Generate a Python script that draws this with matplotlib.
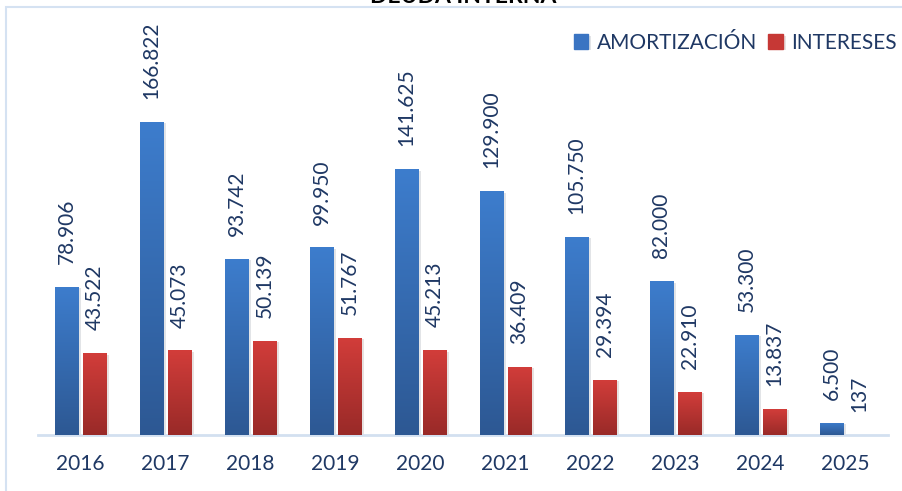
import numpy as np
import matplotlib.pyplot as plt
from matplotlib import patheffects as pe
from matplotlib.colors import LinearSegmentedColormap
from matplotlib.patches import Rectangle

# data (values in thousands, shown with "." as thousands separator)
years = ['2016', '2017', '2018', '2019', '2020', '2021', '2022', '2023', '2024', '2025']
amortizacion = [78906, 166822, 93742, 99950, 141625, 129900, 105750, 82000, 53300, 6500]
intereses = [43522, 45073, 50139, 51767, 45213, 36409, 29394, 22910, 13837, 137]

plt.rcParams['font.family'] = ['Lato', 'DejaVu Sans']
txt_col = '#1F3864'
blue, red = '#3A74C2', '#C63835'
W, H = 902, 491

fig = plt.figure(figsize=(W / 100, H / 100), dpi=100)
ax = fig.add_axes([38 / W, (H - 435) / H, 850 / W, 425 / H])

x = np.arange(len(years))
bw, off = 0.28, 0.165
shadow = [pe.SimplePatchShadow(offset=(2, -1), alpha=0.12), pe.Normal()]
b1 = ax.bar(x - off, amortizacion, bw, color=blue, label='AMORTIZACIÓN', zorder=2)
b2 = ax.bar(x + off, intereses, bw, color=red, label='INTERESES', zorder=2)

# vertical gradients on bars
grad = np.linspace(0, 1, 256).reshape(-1, 1)
cm_blue = LinearSegmentedColormap.from_list('b', ['#2D5893', '#3D7DCD'])
cm_red = LinearSegmentedColormap.from_list('r', ['#992A28', '#D23D3A'])
for bars, cm in ((b1, cm_blue), (b2, cm_red)):
    for p in bars:
        p.set_path_effects(shadow)
        x0, y0 = p.get_x(), p.get_y()
        im = ax.imshow(grad, cmap=cm, origin='lower', aspect='auto', zorder=3,
                       extent=(x0, x0 + p.get_width(), y0, y0 + p.get_height()))
        im.set_clip_path(p)

# data labels, rotated, above each bar
fmt = lambda v: f'{v:,}'.replace(',', '.')
for bars, vals in ((b1, amortizacion), (b2, intereses)):
    for p, v in zip(bars, vals):
        ax.annotate(fmt(v), (p.get_x() + p.get_width() / 2, p.get_height()),
                    xytext=(0, 16.5), textcoords='offset points', rotation=90,
                    ha='center', va='bottom', fontsize=15, color=txt_col)

ax.set_ylim(0, 226500)
ax.set_xlim(-0.5, len(years) - 0.5)
ax.set_xticks(x)
ax.set_xticklabels(years, fontsize=15, color=txt_col)
ax.tick_params(axis='x', length=0, pad=14)
ax.set_yticks([])
for s in ('top', 'right', 'left'):
    ax.spines[s].set_visible(False)
ax.spines['bottom'].set_color('#D3E0F0')
ax.spines['bottom'].set_linewidth(2)
ax.set_facecolor('none')

leg = fig.legend(handles=[b1, b2], loc='center right', bbox_to_anchor=(897 / W, 1 - 43 / H),
                 ncol=2, frameon=False, fontsize=15, handlelength=0.7, handleheight=0.7,
                 handletextpad=0.4, columnspacing=0.55, borderpad=0, borderaxespad=0,
                 labelcolor=txt_col)
for h, c in zip(leg.legend_handles, (blue, red)):
    h.set_color(c)

# chart frame and the clipped title
fig.patches.append(Rectangle((6 / W, -0.1), 1.1, 1 - 7 / H + 0.1, transform=fig.transFigure,
                             fill=False, edgecolor='#D5E2F2', linewidth=1.5))
fig.text(463 / W, 1 - 3 / H, 'DEUDA INTERNA', ha='center', va='baseline',
         fontsize=16.5, fontweight='bold', color='black')

fig.savefig('out.png', dpi=100)
